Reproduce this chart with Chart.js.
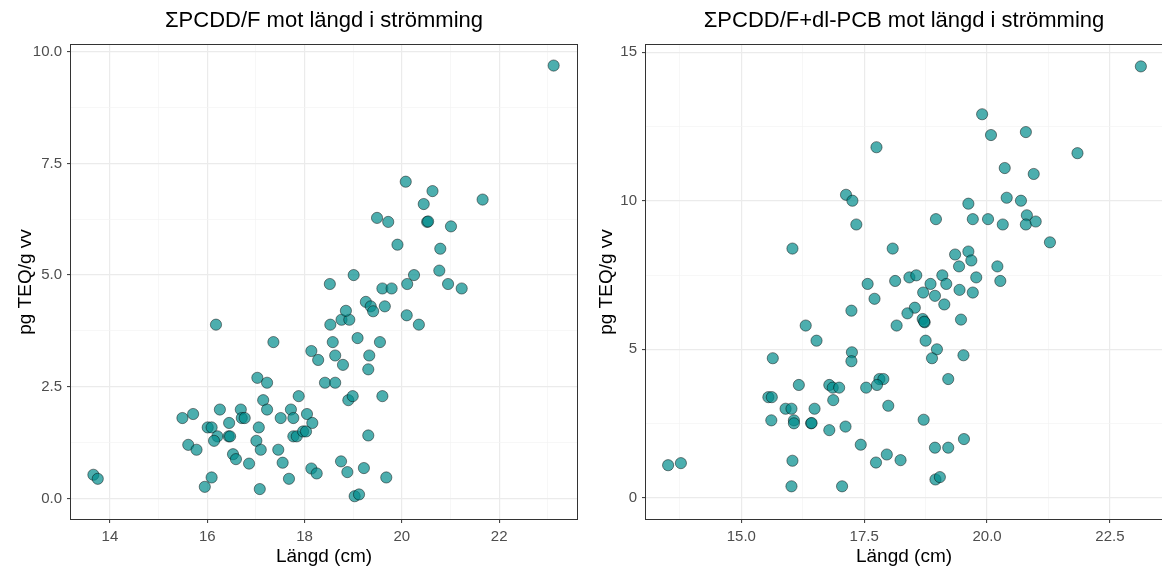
<!DOCTYPE html>
<html>
<head>
<meta charset="utf-8">
<script src="https://cdn.jsdelivr.net/npm/chart.js@4.4.0/dist/chart.umd.min.js"></script>
<style>
  html, body { margin: 0; padding: 0; background: #fff; }
  #wrap { position: relative; width: 1162px; height: 570px; overflow: hidden; }
  canvas { position: absolute; top: 0; }
</style>
</head>
<body>
<div id="wrap">
  <canvas id="leftChart" width="581" height="570" style="left:0"></canvas>
  <canvas id="rightChart" width="581" height="570" style="left:581px"></canvas>
</div>
<script>
/* global document, Chart */

// Left panel: sum PCDD/F against length
let pcddLength = [
    13.66, 13.75, 15.49, 15.71, 15.61, 15.78, 15.95, 16.09, 16.01, 16.09,
    16.18, 16.21, 16.14, 16.26, 16.45, 16.44, 16.47, 16.53, 16.59, 16.69,
    16.71, 16.77, 16.86, 17.01, 17.03, 17.06, 17.10, 17.08, 17.15, 17.23,
    17.23, 17.36, 17.46, 17.51, 17.55, 17.68, 17.72, 17.77, 17.77, 17.84,
    17.88, 17.97, 18.03, 18.05, 18.16, 18.14, 18.14, 18.25, 18.28, 18.42,
    18.52, 18.53, 18.58, 18.63, 18.63, 18.76, 18.92, 18.85, 18.79, 18.75,
    18.88, 18.90, 18.99, 19.01, 19.03, 19.12, 19.09, 19.22, 19.26, 19.36,
    19.41, 19.33, 19.31, 19.31, 19.55, 19.60, 19.79, 19.65, 19.60, 19.68,
    20.10, 20.11, 20.25, 20.35, 20.77, 20.95, 21.23, 20.79, 19.91, 23.12,
    20.08, 20.63, 21.66, 20.45, 19.49, 19.72, 20.52, 20.54, 21.01
];
let pcddValue = [
    0.53, 0.44, 1.80, 1.89, 1.20, 1.09, 0.26, 0.47, 1.59, 1.59,
    3.89, 1.39, 1.29, 1.99, 1.69, 1.39, 1.39, 0.99, 0.88, 1.99,
    1.80, 1.80, 0.78, 1.29, 2.70, 1.59, 1.09, 0.21, 2.20, 2.59,
    1.99, 3.50, 1.09, 1.80, 0.80, 0.44, 1.99, 1.80, 1.39, 1.39,
    2.29, 1.50, 1.50, 1.89, 1.69, 3.30, 0.67, 0.56, 3.10, 2.59,
    4.80, 3.89, 3.50, 3.20, 2.59, 4.00, 4.00, 4.20, 2.99, 0.83,
    0.59, 2.20, 2.29, 5.00, 0.05, 0.09, 3.59, 0.68, 4.40, 4.30,
    4.19, 3.20, 2.89, 1.41, 3.50, 4.70, 4.70, 4.30, 2.29, 0.47,
    4.10, 4.80, 5.00, 3.89, 5.10, 4.80, 4.70, 5.59, 5.68, 9.69,
    7.09, 6.88, 6.69, 6.59, 6.28, 6.19, 6.19, 6.20, 6.09
];

// Right panel: sum PCDD/F + dl-PCB against length
let totalLength = [
    23.13, 19.90, 20.08, 20.79, 17.75, 21.84, 20.36, 20.95, 17.13, 17.26,
    20.40, 20.69, 19.62, 17.34, 18.96, 19.71, 20.02, 20.32, 20.81, 20.79,
    20.99, 16.04, 18.08, 21.28, 19.35, 19.62, 19.68, 19.43, 20.21, 20.27,
    17.57, 18.13, 18.42, 18.56, 19.09, 18.85, 19.17, 19.78, 19.44, 19.71,
    18.70, 18.94, 17.71, 19.13, 18.53, 18.38, 17.24, 18.69, 18.73, 18.72,
    19.47, 18.16, 16.31, 16.53, 18.75, 18.98, 17.25, 17.24, 15.64, 18.88,
    19.52, 17.81, 17.89, 19.21, 16.17, 16.79, 16.86, 16.99, 17.54, 17.76,
    15.55, 15.62, 16.87, 17.99, 15.90, 16.02, 16.49, 15.61, 16.07, 16.07,
    16.42, 16.43, 16.79, 17.12, 18.71, 17.43, 19.53, 18.94, 19.21, 17.96,
    17.74, 18.24, 16.04, 13.51, 13.77, 18.95, 19.04, 16.02, 17.05
];
let totalValue = [
    14.52, 12.91, 12.21, 12.31, 11.80, 11.60, 11.10, 10.90, 10.20, 10.00,
    10.10, 10.00, 9.90, 9.20, 9.38, 9.38, 9.38, 9.20, 9.51, 9.20,
    9.30, 8.39, 8.39, 8.60, 8.19, 8.29, 7.99, 7.79, 7.79, 7.30,
    7.20, 7.30, 7.42, 7.49, 7.49, 7.20, 7.20, 7.42, 7.00, 6.91,
    6.91, 6.80, 6.70, 6.51, 6.40, 6.21, 6.30, 6.02, 5.91, 5.93,
    6.00, 5.80, 5.80, 5.29, 5.29, 5.00, 4.90, 4.60, 4.70, 4.70,
    4.80, 4.00, 4.00, 4.00, 3.80, 3.80, 3.71, 3.71, 3.71, 3.80,
    3.39, 3.39, 3.29, 3.10, 3.00, 3.00, 3.00, 2.61, 2.61, 2.51,
    2.51, 2.52, 2.28, 2.40, 2.63, 1.79, 1.98, 1.69, 1.69, 1.46,
    1.19, 1.27, 1.25, 1.10, 1.17, 0.62, 0.70, 0.39, 0.39
];

// Axis ticks
let leftXTicks = [14, 16, 18, 20, 22];
let leftXLabels = ['14', '16', '18', '20', '22'];
let leftXMinor = [15, 17, 19, 21, 23];
let leftYTicks = [0, 2.5, 5, 7.5, 10];
let leftYLabels = ['0.0', '2.5', '5.0', '7.5', '10.0'];
let leftYMinor = [1.25, 3.75, 6.25, 8.75];

let rightXTicks = [15, 17.5, 20, 22.5];
let rightXLabels = ['15.0', '17.5', '20.0', '22.5'];
let rightXMinor = [13.75, 16.25, 18.75, 21.25];
let rightYTicks = [0, 5, 10, 15];
let rightYLabels = ['0', '5', '10', '15'];
let rightYMinor = [2.5, 7.5, 12.5];

Chart.defaults.font.family = '"Liberation Sans", Arial, sans-serif';

function buildTicks(majors, minors) {
    return majors.map(v => ({ value: v, minor: false }))
        .concat(minors.map(v => ({ value: v, minor: true })))
        .sort((a, b) => a.value - b.value);
}

function tickLabel(majors, labels) {
    return function(value) {
        let i = majors.indexOf(value);
        return i >= 0 ? labels[i] : '';
    };
}

let isMinor = ctx => ctx.tick && ctx.tick.minor;

let gridOptions = {
    color: ctx => isMinor(ctx) ? '#f3f3f3' : '#ebebeb',
    lineWidth: ctx => isMinor(ctx) ? 0.7 : 1.2,
    tickColor: ctx => isMinor(ctx) ? 'rgba(0,0,0,0)' : '#333333',
    tickLength: 4,
    tickWidth: 1
};

// ggplot-like panel border on top of everything
let panelBorder = {
    id: 'panelBorder',
    afterDraw(chart) {
        let ctx = chart.ctx;
        let a = chart.chartArea;
        ctx.save();
        ctx.strokeStyle = '#333333';
        ctx.lineWidth = 1;
        ctx.strokeRect(Math.round(a.left) - 0.5, Math.round(a.top) - 0.5,
            Math.round(a.right - a.left) + 1, Math.round(a.bottom - a.top) + 1);
        ctx.restore();
    }
};

function makeChart(canvasId, titleText, xs, ys, o) {
    let points = xs.map((x, i) => ({ x: x, y: ys[i] }));
    return new Chart(document.getElementById(canvasId), {
        type: 'scatter',
        data: {
            datasets: [{
                data: points,
                backgroundColor: 'rgba(0,139,139,0.7)',
                borderColor: 'rgba(0,0,0,0.65)',
                borderWidth: 0.7,
                pointRadius: 5.6,
                pointHoverRadius: 5.6
            }]
        },
        options: {
            responsive: false,
            animation: false,
            devicePixelRatio: 1,
            events: [],
            layout: { autoPadding: false, padding: { left: 0, right: o.padRight, top: 0, bottom: 0 } },
            plugins: {
                legend: { display: false },
                tooltip: { enabled: false },
                title: {
                    display: true,
                    text: titleText,
                    fullSize: false,
                    color: '#000000',
                    font: { size: 22, weight: 'normal' },
                    padding: { top: 7.5, bottom: 11.1 }
                }
            },
            scales: {
                x: {
                    type: 'linear',
                    min: o.xMin,
                    max: o.xMax,
                    afterBuildTicks: axis => { axis.ticks = buildTicks(o.xTicks, o.xMinor); },
                    afterFit: axis => { axis.height = 51; },
                    ticks: {
                        callback: tickLabel(o.xTicks, o.xLabels),
                        color: '#4d4d4d',
                        font: { size: 15 },
                        padding: 5,
                        autoSkip: false,
                        maxRotation: 0
                    },
                    grid: gridOptions,
                    border: { display: false },
                    title: {
                        display: true,
                        text: 'Längd (cm)',
                        color: '#000000',
                        font: { size: 19 },
                        padding: { top: 0, bottom: 1.8 }
                    }
                },
                y: {
                    type: 'linear',
                    min: o.yMin,
                    max: o.yMax,
                    afterBuildTicks: axis => { axis.ticks = buildTicks(o.yTicks, o.yMinor); },
                    afterFit: axis => { axis.width = o.yWidth; },
                    ticks: {
                        callback: tickLabel(o.yTicks, o.yLabels),
                        color: '#4d4d4d',
                        font: { size: 15 },
                        padding: 5,
                        autoSkip: false
                    },
                    grid: gridOptions,
                    border: { display: false },
                    title: {
                        display: true,
                        text: 'pg TEQ/g vv',
                        color: '#000000',
                        font: { size: 19 },
                        padding: { top: 14.6, bottom: 0 }
                    }
                }
            }
        },
        plugins: [panelBorder]
    });
}

makeChart('leftChart', '\u03A3PCDD/F mot längd i strömming', pcddLength, pcddValue, {
    xMin: 13.2, xMax: 23.6, yMin: -0.46, yMax: 10.15,
    xTicks: leftXTicks, xLabels: leftXLabels, xMinor: leftXMinor,
    yTicks: leftYTicks, yLabels: leftYLabels, yMinor: leftYMinor,
    yWidth: 71, padRight: 4
});

makeChart('rightChart', '\u03A3PCDD/F+dl-PCB mot längd i strömming', totalLength, totalValue, {
    xMin: 13.06, xMax: 23.56, yMin: -0.71, yMax: 15.24,
    xTicks: rightXTicks, xLabels: rightXLabels, xMinor: rightXMinor,
    yTicks: rightYTicks, yLabels: rightYLabels, yMinor: rightYMinor,
    yWidth: 65, padRight: 0
});
</script>
</body>
</html>
